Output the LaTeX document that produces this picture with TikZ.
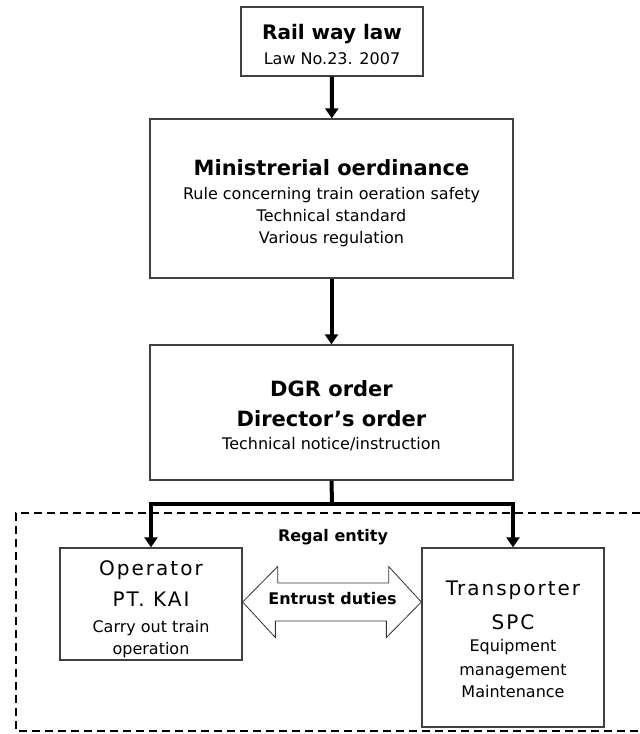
\documentclass[tikz,border=0pt]{standalone}
\usepackage{fontspec}
\setmainfont{DejaVu Sans}
\newfontfamily\spacedfont[LetterSpace=10]{DejaVu Sans}
\usetikzlibrary{arrows.meta}

\begin{document}
\begin{tikzpicture}[x=1pt, y=-1pt]


\tikzset{docbox/.style={draw=black!75, line width=1.3, fill=white, align=center, inner sep=0, font=\fontsize{16}{22}\selectfont}}
\tikzset{flow/.style={-{Triangle[length=10pt, width=13pt]}, line width=4}}
\tikzset{trunk/.style={line width=4}}
\tikzset{regal/.style={dash pattern=on 8pt off 5pt, line width=1.6}}
\tikzset{hollow/.style={draw=black!80, line width=0.8, fill=white}}
\tikzset{tag/.style={font=\bfseries\fontsize{16}{19}\selectfont}}
\useasboundingbox (0,0) rectangle (640,734);
\draw[regal] (640,513) -| (16,731) -- (640,731);
\node[docbox, minimum width=182, minimum height=69] (law) at (332,41.5) {\rule{0pt}{21pt}{\bfseries\fontsize{20}{24}\selectfont Rail way law}\\[2.5pt] Law No.23. 2007};
\node[docbox, minimum width=363, minimum height=159] (ordinance) at (331.5,198.5) {\rule{0pt}{26pt}{\bfseries\fontsize{21}{26}\selectfont Ministrerial oerdinance}\\[2.2pt] Rule concerning train oeration safety\\ Technical standard\\ Various regulation};
\node[docbox, minimum width=363, minimum height=135] (dgr) at (331.5,412.5) {\rule{0pt}{22pt}{\bfseries\fontsize{21}{26}\selectfont DGR order}\\[8pt] {\bfseries\fontsize{21}{26}\selectfont Director's order}\\[0.9pt] Technical notice/instruction};
\node[docbox, minimum width=182, minimum height=112] (operator) at (151,604) {\rule{0pt}{25pt}{\spacedfont\fontsize{20}{24}\selectfont Operator}\\[9pt] {\spacedfont\fontsize{20}{24}\selectfont PT. KAI}\\[3.5pt] Carry out train\\ operation};
\node[docbox, minimum width=182, minimum height=179] (transporter) at (513,637.5) {\rule{0pt}{18.5pt}{\spacedfont\fontsize{20}{24}\selectfont Transporter}\\[12pt] {\spacedfont\fontsize{20}{24}\selectfont SPC}\\ Equipment\\[1.5pt] management\\[0.5pt] Maintenance};
\node[tag] (regal) at (333,537) {Regal entity};
\coordinate (mid) at (332.5,602);
\coordinate (split) at (332,504);
\draw[flow] (law) edge (ordinance);
\draw[flow] (ordinance) edge (dgr);
\draw[trunk] (dgr.south) -- (split);
\draw[flow] (split) -| (operator.north);
\draw[flow] (split) -| (transporter.north);
\draw[hollow] (operator.east |- mid) -- ++(35,-35.5) -- ++(0,16.5) -- ++(111,0) -- ++(0,-16.5) -- (transporter.west |- mid) -- ++(-35,35.5) -- ++(0,-16.5) -- ++(-111,0) -- ++(0,16.5) -- cycle;
\node[tag] (entrust) at (332.5,599) {Entrust duties};

\end{tikzpicture}
\end{document}
